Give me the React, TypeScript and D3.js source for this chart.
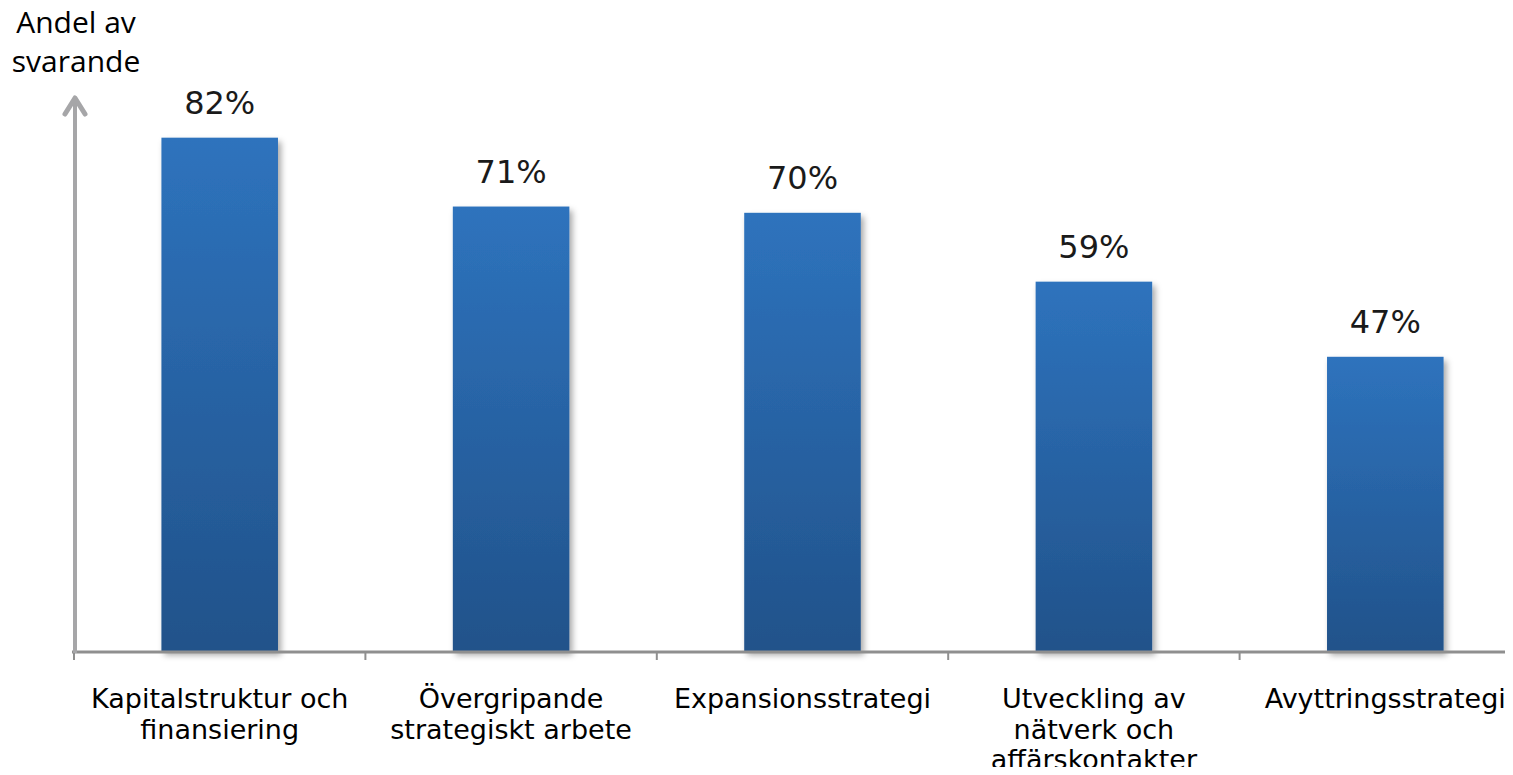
import React, { useEffect, useRef } from 'react';
import * as d3 from 'd3';

const categories: string[][] = [
  ['Kapitalstruktur och', 'finansiering'],
  ['Övergripande', 'strategiskt arbete'],
  ['Expansionsstrategi'],
  ['Utveckling av', 'nätverk och', 'affärskontakter'],
  ['Avyttringsstrategi'],
];
const shares = [82, 71, 70, 59, 47];
const axisTitle = ['Andel av', 'svarande'];

const W = 1513;
const H = 775;

export default function App() {
  const ref = useRef<SVGSVGElement>(null);

  useEffect(() => {
    const svg = d3.select(ref.current);
    svg.selectAll('*').remove();

    const x = d3.scaleBand<number>()
      .domain(d3.range(categories.length))
      .range([74, 1531])
      .paddingInner(0.6)
      .paddingOuter(0.3);
    const y = d3.scaleLinear().domain([0, 100]).range([651, 25]);

    const defs = svg.append('defs');
    const grad = defs.append('linearGradient')
      .attr('id', 'barGrad')
      .attr('x1', 0).attr('y1', 0).attr('x2', 0).attr('y2', 1);
    grad.append('stop').attr('offset', '0%').attr('stop-color', '#2e73bd');
    grad.append('stop').attr('offset', '100%').attr('stop-color', '#21528a');
    const shadow = defs.append('filter').attr('id', 'shadow')
      .attr('x', '-10%').attr('y', '-10%').attr('width', '130%').attr('height', '130%');
    shadow.append('feDropShadow')
      .attr('dx', 3).attr('dy', 4).attr('stdDeviation', 3)
      .attr('flood-color', '#000').attr('flood-opacity', 0.35);

    // bars
    svg.append('g')
      .selectAll('rect')
      .data(shares)
      .join('rect')
      .attr('x', (_, i) => x(i)!)
      .attr('y', d => y(d))
      .attr('width', x.bandwidth())
      .attr('height', d => y(0) - y(d))
      .attr('fill', 'url(#barGrad)')
      .attr('filter', 'url(#shadow)');

    // value labels
    svg.append('g')
      .selectAll('text')
      .data(shares)
      .join('text')
      .attr('x', (_, i) => x(i)! + x.bandwidth() / 2)
      .attr('y', d => y(d) - 24)
      .attr('text-anchor', 'middle')
      .attr('font-family', '"DejaVu Sans", sans-serif')
      .attr('font-size', 32)
      .attr('fill', '#1a1a1a')
      .text(d => `${d}%`);

    // x axis
    const step = x.step();
    svg.append('line')
      .attr('x1', 72).attr('x2', W)
      .attr('y1', 652).attr('y2', 652)
      .attr('stroke', '#8f8f8f').attr('stroke-width', 3);
    svg.append('g')
      .selectAll('line')
      .data(d3.range(categories.length))
      .join('line')
      .attr('x1', i => 74 + i * step)
      .attr('x2', i => 74 + i * step)
      .attr('y1', 652).attr('y2', 660)
      .attr('stroke', '#8f8f8f').attr('stroke-width', 2);

    // y axis with arrow
    svg.append('line')
      .attr('x1', 75).attr('x2', 75)
      .attr('y1', 653).attr('y2', 97)
      .attr('stroke', '#a6a6a8').attr('stroke-width', 4);
    svg.append('path')
      .attr('d', 'M65,114 L75,98 L85,114')
      .attr('fill', 'none')
      .attr('stroke', '#a6a6a8').attr('stroke-width', 5)
      .attr('stroke-linecap', 'round').attr('stroke-linejoin', 'round');

    // axis title
    svg.append('text')
      .attr('text-anchor', 'middle')
      .attr('font-family', '"Open Sans", sans-serif')
      .attr('font-size', 30)
      .attr('fill', '#000')
      .selectAll('tspan')
      .data(axisTitle)
      .join('tspan')
      .attr('x', 76)
      .attr('y', (_, i) => 33 + i * 39)
      .text(d => d);

    // category labels
    svg.append('g')
      .selectAll('text')
      .data(categories)
      .join('text')
      .attr('text-anchor', 'middle')
      .attr('font-family', '"DejaVu Sans", sans-serif')
      .attr('font-size', 27)
      .attr('fill', '#000')
      .each(function (lines, i) {
        d3.select(this)
          .selectAll('tspan')
          .data(lines)
          .join('tspan')
          .attr('x', x(i)! + x.bandwidth() / 2)
          .attr('y', (_, j) => 708 + j * 30.5)
          .text(d => d);
      });
  }, []);

  return <svg ref={ref} width={W} height={H} style={{ display: 'block', margin: -8 }} />;
}
